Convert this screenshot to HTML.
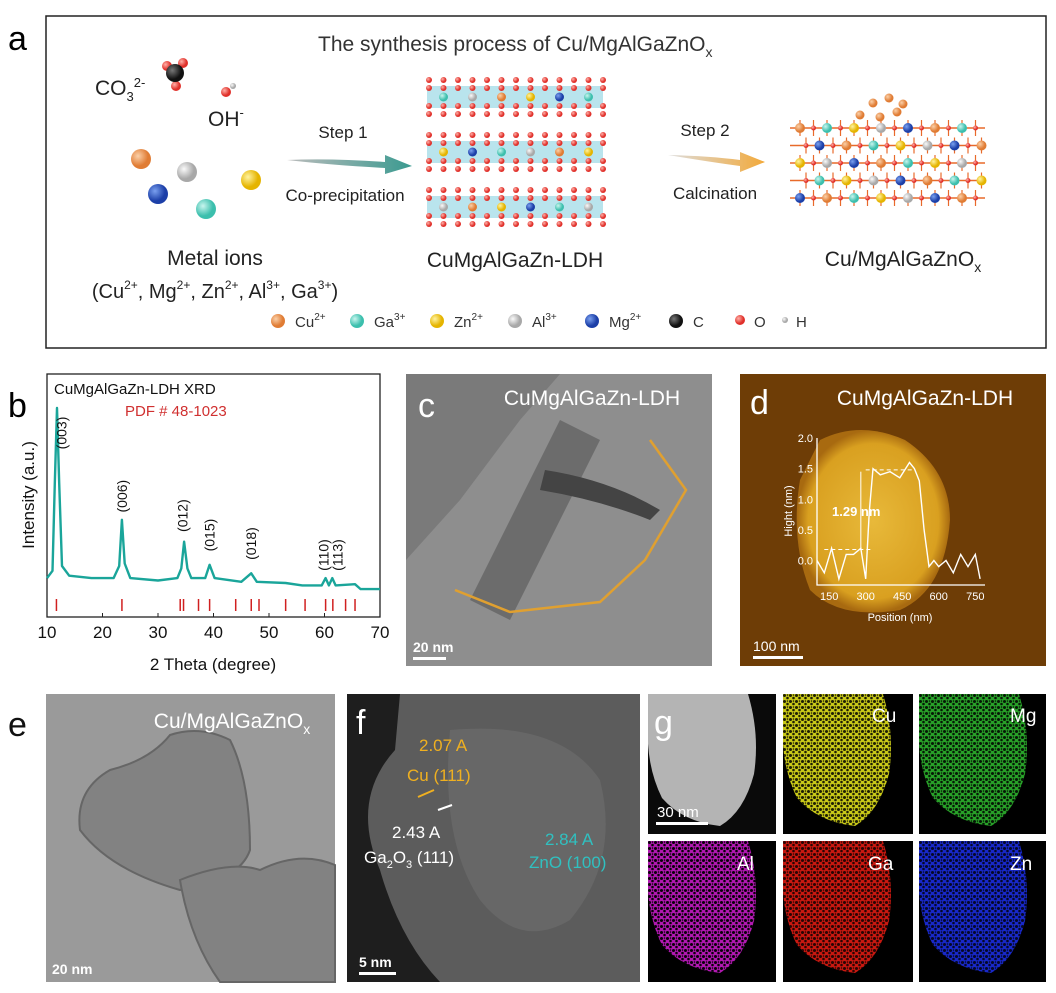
<!DOCTYPE html>
<html><head><meta charset="utf-8"><style>
body{margin:0;background:#fff}
svg text{font-family:"Liberation Sans",Arial,sans-serif}
</style></head><body>
<svg id="fig" width="1056" height="988" viewBox="0 0 1056 988" xmlns="http://www.w3.org/2000/svg">
<defs>
<radialGradient id="gCu" cx="35%" cy="35%"><stop offset="0" stop-color="#fbd0a8"/><stop offset="1" stop-color="#e07c34"/></radialGradient>
<radialGradient id="gGa" cx="35%" cy="35%"><stop offset="0" stop-color="#c8f5ee"/><stop offset="1" stop-color="#3cbfad"/></radialGradient>
<radialGradient id="gZn" cx="35%" cy="35%"><stop offset="0" stop-color="#fff3a0"/><stop offset="1" stop-color="#e5b400"/></radialGradient>
<radialGradient id="gAl" cx="35%" cy="35%"><stop offset="0" stop-color="#fafafa"/><stop offset="1" stop-color="#a8a8a8"/></radialGradient>
<radialGradient id="gMg" cx="35%" cy="35%"><stop offset="0" stop-color="#7aa0ef"/><stop offset="1" stop-color="#1c3fa8"/></radialGradient>
<radialGradient id="gC" cx="35%" cy="35%"><stop offset="0" stop-color="#777"/><stop offset="1" stop-color="#111"/></radialGradient>
<radialGradient id="gO" cx="35%" cy="35%"><stop offset="0" stop-color="#ffb0a8"/><stop offset="1" stop-color="#e0302a"/></radialGradient>
<linearGradient id="arr1" x1="0" x2="1"><stop offset="0" stop-color="#bbb"/><stop offset="1" stop-color="#3a9a90"/></linearGradient>
<linearGradient id="arr2" x1="0" x2="1"><stop offset="0" stop-color="#ddd"/><stop offset="1" stop-color="#f2a93a"/></linearGradient>
<radialGradient id="afmBlob" cx="50%" cy="50%"><stop offset="0" stop-color="#e8b93a"/><stop offset="0.85" stop-color="#d9a020"/><stop offset="1" stop-color="#a86a10"/></radialGradient>
<pattern id="holes" width="6" height="6" patternUnits="userSpaceOnUse"><circle cx="1.5" cy="1.5" r="1.5" fill="#000"/><circle cx="4.5" cy="4" r="1.3" fill="#000"/><circle cx="4.5" cy="1" r="0.8" fill="#000"/></pattern>
<path id="blob" d="M0 0 L100 0 Q112 40 106 80 Q96 118 72 132 Q35 128 14 104 Q2 80 0 50Z"/>
</defs>

<!-- Panel a -->
<g>
<rect x="46" y="16" width="1000" height="332" fill="#fff" stroke="#222" stroke-width="1.5"/>
<text x="8" y="50" font-size="34">a</text>
<text x="318" y="51" font-size="21" fill="#333">The synthesis process of Cu/MgAlGaZnO<tspan font-size="14" dy="6">x</tspan></text>
<text x="95" y="95" font-size="21" fill="#222">CO<tspan font-size="13" dy="6">3</tspan><tspan font-size="13" dy="-14">2-</tspan></text>
<g>
<circle cx="167" cy="66" r="5" fill="url(#gO)"/><circle cx="183" cy="63" r="5" fill="url(#gO)"/><circle cx="176" cy="86" r="5" fill="url(#gO)"/>
<circle cx="175" cy="73" r="9" fill="url(#gC)"/></g>
<g><circle cx="226" cy="92" r="5" fill="url(#gO)"/><circle cx="233" cy="86" r="3" fill="url(#gAl)"/></g>
<text x="208" y="126" font-size="21" fill="#222">OH<tspan font-size="13" dy="-9">-</tspan></text>
<g>
<circle cx="141" cy="159" r="10" fill="url(#gCu)"/><circle cx="187" cy="172" r="10" fill="url(#gAl)"/>
<circle cx="251" cy="180" r="10" fill="url(#gZn)"/><circle cx="158" cy="194" r="10" fill="url(#gMg)"/>
<circle cx="206" cy="209" r="10" fill="url(#gGa)"/></g>
<text x="215" y="265" font-size="21" text-anchor="middle" fill="#222">Metal ions</text>
<text x="215" y="298" font-size="20" text-anchor="middle" fill="#222">(Cu<tspan font-size="12" dy="-9">2+</tspan><tspan dy="9">, Mg</tspan><tspan font-size="12" dy="-9">2+</tspan><tspan dy="9">, Zn</tspan><tspan font-size="12" dy="-9">2+</tspan><tspan dy="9">, Al</tspan><tspan font-size="12" dy="-9">3+</tspan><tspan dy="9">, Ga</tspan><tspan font-size="12" dy="-9">3+</tspan><tspan dy="9">)</tspan></text>
<text x="343" y="138" font-size="17" text-anchor="middle" fill="#222">Step 1</text>
<path d="M287 160 Q330 158 385 162 L385 155 L412 166 L385 174 L385 168 Q330 165 287 160Z" fill="url(#arr1)"/>
<text x="345" y="201" font-size="17" text-anchor="middle" fill="#222">Co-precipitation</text>
<g id="ldh"></g>
<text x="515" y="267" font-size="21" text-anchor="middle" fill="#222">CuMgAlGaZn-LDH</text>
<text x="705" y="136" font-size="17" text-anchor="middle" fill="#222">Step 2</text>
<path d="M668 155 Q710 156 740 160 L740 152 L765 162 L740 172 L740 166 Q710 162 668 155Z" fill="url(#arr2)"/>
<text x="715" y="199" font-size="17" text-anchor="middle" fill="#222">Calcination</text>
<g id="oxide"></g>
<text x="903" y="266" font-size="21" text-anchor="middle" fill="#222">Cu/MgAlGaZnO<tspan font-size="14" dy="6">x</tspan></text>
<g font-size="15" fill="#333">
<circle cx="278" cy="321" r="7" fill="url(#gCu)"/><text x="295" y="327">Cu<tspan font-size="10" dy="-7">2+</tspan></text>
<circle cx="357" cy="321" r="7" fill="url(#gGa)"/><text x="374" y="327">Ga<tspan font-size="10" dy="-7">3+</tspan></text>
<circle cx="437" cy="321" r="7" fill="url(#gZn)"/><text x="454" y="327">Zn<tspan font-size="10" dy="-7">2+</tspan></text>
<circle cx="515" cy="321" r="7" fill="url(#gAl)"/><text x="532" y="327">Al<tspan font-size="10" dy="-7">3+</tspan></text>
<circle cx="592" cy="321" r="7" fill="url(#gMg)"/><text x="609" y="327">Mg<tspan font-size="10" dy="-7">2+</tspan></text>
<circle cx="676" cy="321" r="7" fill="url(#gC)"/><text x="693" y="327">C</text>
<circle cx="740" cy="320" r="5" fill="url(#gO)"/><text x="754" y="327">O</text>
<circle cx="785" cy="320" r="3" fill="url(#gAl)"/><text x="796" y="327">H</text>
</g>
</g>

<!-- Panel b -->
<g>
<text x="8" y="417" font-size="34">b</text>
<rect x="47" y="374" width="333" height="243" fill="#fff" stroke="#222" stroke-width="1.3"/>
<text x="54" y="394" font-size="15" fill="#111">CuMgAlGaZn-LDH  XRD</text>
<text x="125" y="416" font-size="15" fill="#d03030">PDF # 48-1023</text>
<g id="xrd"></g>
<text x="213" y="670" font-size="17" text-anchor="middle" fill="#111">2 Theta (degree)</text>
<text x="0" y="0" font-size="17" text-anchor="middle" fill="#111" transform="translate(34 495) rotate(-90)">Intensity (a.u.)</text>
</g>

<!-- Panel c -->
<g>
<rect x="406" y="374" width="306" height="292" fill="#8e8e8e"/>
<path d="M406 374 L560 374 L520 420 L460 500 L406 560Z" fill="#7a7a7a"/>
<path d="M470 600 L560 420 L600 440 L510 620Z" fill="#5e5e5e" opacity="0.7"/>
<path d="M545 470 Q610 480 660 510 L650 520 Q600 500 540 490Z" fill="#444"/>
<polyline points="455,590 510,612 600,602 645,560 686,490 650,440" fill="none" stroke="#e0a030" stroke-width="2.5"/>
<text x="418" y="417" font-size="34" fill="#fff">c</text>
<text x="592" y="405" font-size="21" fill="#fff" text-anchor="middle">CuMgAlGaZn-LDH</text>
<rect x="413" y="657" width="33" height="3" fill="#fff"/>
<text x="413" y="652" font-size="14" font-weight="bold" fill="#fff">20 nm</text>
</g>

<!-- Panel d -->
<g>
<rect x="740" y="374" width="306" height="292" fill="#6e3d06"/>
<path d="M820 440 Q860 420 905 440 Q950 470 950 520 Q945 590 900 610 Q840 620 810 590 Q790 540 800 480Z" fill="url(#afmBlob)"/>
<text x="750" y="414" font-size="34" fill="#fff">d</text>
<text x="925" y="405" font-size="21" fill="#fff" text-anchor="middle">CuMgAlGaZn-LDH</text>
<g id="afm"></g>
<rect x="753" y="656" width="50" height="3" fill="#fff"/>
<text x="753" y="651" font-size="14" fill="#fff">100 nm</text>
</g>

<!-- Panel e -->
<g>
<rect x="46" y="694" width="289" height="288" fill="#9a9a9a"/>
<path d="M110 770 Q150 760 170 735 Q200 725 230 740 Q250 780 250 850 Q240 880 180 890 Q110 870 80 830 Q75 790 110 770Z" fill="#828282" stroke="#666" stroke-width="2"/>
<path d="M180 880 Q230 860 260 870 Q300 850 335 865 L335 982 L220 982 Q190 940 180 880Z" fill="#828282" stroke="#666" stroke-width="2"/>
<text x="8" y="736" font-size="34" fill="#111">e</text>
<text x="232" y="728" font-size="21" fill="#fff" text-anchor="middle">Cu/MgAlGaZnO<tspan font-size="14" dy="6">x</tspan></text>
<text x="52" y="974" font-size="14" font-weight="bold" fill="#fff">20 nm</text>
</g>

<!-- Panel f -->
<g>
<rect x="347" y="694" width="293" height="288" fill="#1e1e1e"/>
<path d="M400 694 L640 694 L640 982 L440 982 Q400 940 380 870 Q350 800 395 750Z" fill="#5c5c5c"/>
<path d="M450 730 Q560 720 600 780 Q620 860 570 920 Q520 950 480 900 Q440 840 450 730Z" fill="#6e6e6e" opacity="0.6"/>
<text x="356" y="734" font-size="34" fill="#fff">f</text>
<text x="419" y="751" font-size="17" fill="#f0b020">2.07 A</text>
<text x="407" y="781" font-size="17" fill="#f0b020">Cu  (111)</text>
<line x1="418" y1="797" x2="434" y2="790" stroke="#f0b020" stroke-width="2"/>
<line x1="438" y1="810" x2="452" y2="805" stroke="#fff" stroke-width="2"/>
<text x="392" y="838" font-size="17" fill="#fff">2.43 A</text>
<text x="364" y="863" font-size="17" fill="#fff">Ga<tspan font-size="11" dy="5">2</tspan><tspan dy="-5">O</tspan><tspan font-size="11" dy="5">3</tspan><tspan dy="-5">  (111)</tspan></text>
<text x="545" y="845" font-size="17" fill="#30c0c0">2.84 A</text>
<text x="529" y="868" font-size="17" fill="#30c0c0">ZnO (100)</text>
<rect x="359" y="972" width="37" height="3" fill="#fff"/>
<text x="359" y="967" font-size="14" font-weight="bold" fill="#fff">5 nm</text>
</g>

<!-- Panel g -->
<g>
<rect x="648" y="694" width="398" height="288" fill="#fff"/>
<rect x="648" y="694" width="128" height="140" fill="#0a0a0a"/>
<use href="#blob" transform="translate(648 694)" fill="#b4b4b4"/>
<text x="654" y="734" font-size="34" fill="#fff">g</text>
<rect x="656" y="822" width="52" height="3" fill="#fff"/>
<text x="657" y="817" font-size="15" fill="#fff">30 nm</text>

<rect x="783" y="694" width="130" height="140" fill="#000"/>
<use href="#blob" transform="translate(783 694)" fill="#c8c818"/>
<use href="#blob" transform="translate(783 694)" fill="url(#holes)" opacity="0.85"/>
<text x="872" y="722" font-size="19" fill="#fff">Cu</text>

<rect x="919" y="694" width="127" height="140" fill="#000"/>
<use href="#blob" transform="translate(919 694)" fill="#28a028"/>
<use href="#blob" transform="translate(919 694)" fill="url(#holes)" opacity="0.85"/>
<text x="1010" y="722" font-size="19" fill="#fff">Mg</text>

<rect x="648" y="841" width="128" height="141" fill="#000"/>
<use href="#blob" transform="translate(648 841)" fill="#b018b0"/>
<use href="#blob" transform="translate(648 841)" fill="url(#holes)" opacity="0.95"/>
<text x="737" y="870" font-size="19" fill="#fff">Al</text>

<rect x="783" y="841" width="130" height="141" fill="#000"/>
<use href="#blob" transform="translate(783 841)" fill="#c81810"/>
<use href="#blob" transform="translate(783 841)" fill="url(#holes)" opacity="0.8"/>
<text x="868" y="870" font-size="19" fill="#fff">Ga</text>

<rect x="919" y="841" width="127" height="141" fill="#000"/>
<use href="#blob" transform="translate(919 841)" fill="#1828c8"/>
<use href="#blob" transform="translate(919 841)" fill="url(#holes)" opacity="0.8"/>
<text x="1010" y="870" font-size="19" fill="#fff">Zn</text>
</g>
</svg>
<script>
// ===== XRD data (panel b) =====
const xrdTheta = [10,11,11.4,11.8,12.2,12.7,14,18,22,23,23.5,24,25,30,33.5,34.2,34.7,35.3,36,38.5,39.3,40.2,45,46.8,47.8,53,56,59.5,60.2,60.8,61.4,62,65.5,66.5,70];
const xrdIntensity = [16,19,55,86,55,21,17,16,16,21,40,22,16,15,16,20,31,20,16,16,21.5,16,14.5,18,14.5,14,13,13,16,13,16,13,13.5,11.5,11.5];
const refLines = [11.7,23.5,34,34.6,37.3,39.3,44,46.8,48.2,53,56.5,60.2,61.5,63.8,65.5];
const xTicks = [10,20,30,40,50,60,70];
const peakLabels = ["(003)","(006)","(012)","(015)","(018)","(110)","(113)"];
const peakPos = [12.6,23.5,34.4,39.3,46.8,59.8,62.3];
const peakLabelBase = [69,43,35,27,23.5,19,19];

const NS="http://www.w3.org/2000/svg";
function mk(tag,attrs,parent){const e=document.createElementNS(NS,tag);for(const k in attrs)e.setAttribute(k,attrs[k]);parent.appendChild(e);return e;}
const X0=47,X1=380,Y0=617,Y1=374;
const xs=t=>X0+(t-10)/60*(X1-X0);
const ys=v=>Y0-v/100*(Y0-Y1);
const xrd=document.getElementById('xrd');
let d=xrdTheta.map((t,i)=>(i?'L':'M')+xs(t).toFixed(1)+' '+ys(xrdIntensity[i]).toFixed(1)).join(' ');
const curve=mk('path',{d:d,fill:'none',stroke:'#1aa59a','stroke-width':2.4,'stroke-linejoin':'round'},xrd);


refLines.forEach(t=>{const l=mk('line',{x1:xs(t),x2:xs(t),y1:599,y2:611,stroke:'#d02020','stroke-width':1.5},xrd);

});
xTicks.forEach(t=>{mk('line',{x1:xs(t),x2:xs(t),y1:Y0,y2:Y0-4,stroke:'#222'},xrd);
const tx=mk('text',{x:xs(t),y:Y0+21,'font-size':17,'text-anchor':'middle',fill:'#111'},xrd);tx.textContent=t;

});
peakLabels.forEach((s,i)=>{const tx=mk('text',{'font-size':14,'text-anchor':'start',fill:'#111',transform:`translate(${xs(peakPos[i])+5} ${ys(peakLabelBase[i])}) rotate(-90)`},xrd);tx.textContent=s;

});

// ===== AFM height profile (panel d) =====
const posNm=[100,130,160,190,220,250,280,300,315,330,360,400,440,480,500,520,540,560,580,600,630,660,690,720,750,770];
const heightNm=[0.0,-0.2,0.2,-0.3,0.1,0.1,0.2,-0.3,0.8,1.5,1.4,1.45,1.35,1.6,1.5,1.3,0.5,-0.1,0.0,-0.1,0.0,-0.2,0.1,-0.1,0.1,-0.3];
const posTicks=[150,300,450,600,750];
const hTicks=[0.0,0.5,1.0,1.5,2.0];
const afm=document.getElementById('afm');
const PX0=817,PX1=985,PY0=585,PY1=438;
const px=p=>PX0+(p-100)/(790-100)*(PX1-PX0);
const py=h=>PY0-(h+0.4)/2.4*(PY0-PY1);
mk('polyline',{points:`${PX0},${PY1} ${PX0},${PY0} ${PX1},${PY0}`,fill:'none',stroke:'#fff','stroke-width':1.3},afm);
const prof=mk('path',{d:posNm.map((p,i)=>(i?'L':'M')+px(p).toFixed(1)+' '+py(heightNm[i]).toFixed(1)).join(' '),fill:'none',stroke:'#fff','stroke-width':1.4},afm);


posTicks.forEach(p=>{const t=mk('text',{x:px(p),y:PY0+15,'font-size':11,'text-anchor':'middle',fill:'#fff'},afm);t.textContent=p;

});
hTicks.forEach(h=>{const t=mk('text',{x:PX0-4,y:py(h)+4,'font-size':11,'text-anchor':'end',fill:'#fff'},afm);t.textContent=h.toFixed(1);

});
const at=mk('text',{x:900,y:621,'font-size':11,'text-anchor':'middle',fill:'#fff'},afm);at.textContent='Position (nm)';


const ht=mk('text',{'font-size':11,'text-anchor':'middle',fill:'#fff',transform:`translate(792 511) rotate(-90)`},afm);ht.textContent='Hight (nm)';


mk('line',{x1:px(300),x2:px(500),y1:py(1.48),y2:py(1.48),stroke:'#fff','stroke-dasharray':'4 3'},afm);
mk('line',{x1:px(130),x2:px(330),y1:py(0.18),y2:py(0.18),stroke:'#fff','stroke-dasharray':'4 3'},afm);
mk('line',{x1:px(280),x2:px(280),y1:py(1.45),y2:py(0.2),stroke:'#fff'},afm);
const lb=mk('text',{x:832,y:516,'font-size':13,'font-weight':'bold',fill:'#fff'},afm);lb.textContent='1.29 nm';



// ===== Decorative structures (panel a) =====
const grads=['gCu','gGa','gZn','gAl','gMg'];
const ldh=document.getElementById('ldh');
[80,135,190].forEach((y0,li)=>{
 mk('rect',{x:427,y:y0+6,width:176,height:22,fill:'#a8dde8',opacity:0.8},ldh);
 for(let i=0;i<13;i++){const x=429+i*14.5;
  mk('circle',{cx:x,cy:y0,r:3,fill:'url(#gO)'},ldh);mk('circle',{cx:x,cy:y0+8,r:3,fill:'url(#gO)'},ldh);
  mk('circle',{cx:x,cy:y0+26,r:3,fill:'url(#gO)'},ldh);mk('circle',{cx:x,cy:y0+34,r:3,fill:'url(#gO)'},ldh);
  if(i%2==1)mk('circle',{cx:x,cy:y0+17,r:4.5,fill:`url(#${grads[(i+li)%5]})`},ldh);}
});
const ox=document.getElementById('oxide');
for(let r=0;r<5;r++){const y=128+r*17.5;
 mk('line',{x1:790,x2:985,y1:y,y2:y,stroke:'#e86a2a','stroke-width':1.5},ox);
 for(let c=0;c<14;c++){const x=800+c*13.5+(r%2)*6;
  mk('line',{x1:x,x2:x,y1:y-8,y2:y+8,stroke:'#e86a2a','stroke-width':1.2},ox);
  if((c+r)%2==0)mk('circle',{cx:x,cy:y,r:5,fill:`url(#${grads[(c*3+r)%5]})`},ox);
  else mk('circle',{cx:x,cy:y,r:2.5,fill:'url(#gO)'},ox);}}
[[873,103],[889,98],[860,115],[880,117],[897,112],[903,104]].forEach(p=>mk('circle',{cx:p[0],cy:p[1],r:4.5,fill:'url(#gCu)'},ox));
</script>
</body></html>
